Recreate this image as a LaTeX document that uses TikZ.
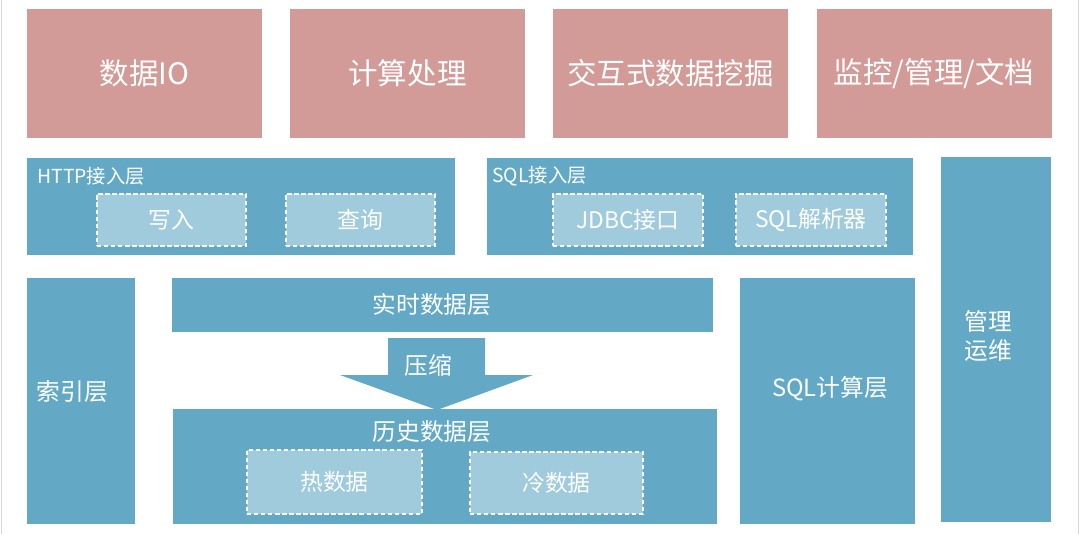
\documentclass[tikz,border=0pt]{standalone}
\usepackage{fontspec}
\setmainfont{Noto Sans CJK SC}
\usepackage{tikz}
\usetikzlibrary{positioning}
\definecolor{archpink}{RGB}{211,155,151}
\definecolor{archblue}{RGB}{99,169,197}
\definecolor{archlight}{RGB}{160,203,220}
\definecolor{archedge}{RGB}{215,215,215}

\begin{document}
\begin{tikzpicture}[
    topbox/.style={fill=archpink,minimum width=4.7cm,minimum height=2.58cm,
                   text=white,font=\fontsize{16.8}{20}\selectfont},
    layer/.style={fill=archblue,text=white,font=\fontsize{13.5}{17}\selectfont,
                  align=center,inner sep=0pt},
    sublayer/.style={fill=archlight,draw=white,line width=0.6pt,
                     dash pattern=on 2.5pt off 1.5pt,text=white,
                     font=\fontsize{13}{16}\selectfont},
    tag/.style={text=white,font=\fontsize{11}{13}\selectfont,inner sep=0pt}]
  \useasboundingbox (0,0) rectangle (21.6,-10.68);
  %% page edges
  \draw[archedge,line width=0.5pt] (0.03,0) -- (0.03,-10.68);
  \draw[archedge,line width=0.5pt] (21.57,0) -- (21.57,-10.68);
  %% Application row
  \node[topbox] (io)      at ( 2.89,-1.47) {数据IO};
  \node[topbox] (calc)    at ( 8.15,-1.47) {计算处理};
  \node[topbox] (mining)  at (13.41,-1.47) {交互式数据挖掘};
  \node[topbox] (monitor) at (18.68,-1.47) {监控/管理/文档};
  %% Access layers
  \node[layer,minimum width=8.56cm,minimum height=1.94cm] (http) at (4.82,-4.13) {};
  \node[tag,anchor=west] (httplbl) at (0.74,-3.52) {HTTP接入层};
  \node[sublayer,minimum width=2.98cm,minimum height=1.04cm] (write) at (3.43,-4.40) {写入};
  \node[sublayer,minimum width=2.98cm,minimum height=1.04cm] (query) at (7.21,-4.40) {查询};
  \node[layer,minimum width=8.52cm,minimum height=1.94cm] (sqlin) at (14.0,-4.13) {};
  \node[tag,anchor=west] (sqllbl) at (9.84,-3.52) {SQL接入层};
  \node[sublayer,minimum width=3.0cm,minimum height=1.04cm] (jdbc)  at (12.56,-4.40) {JDBC接口};
  \node[sublayer,minimum width=3.0cm,minimum height=1.04cm] (parse) at (16.22,-4.40) {SQL解析器};
  %% Ops column
  \node[layer,minimum width=2.2cm,minimum height=7.3cm] (ops) at (19.92,-6.79) {};
  \node[layer,fill=none] (opslbl) at (19.76,-6.72) {管理\\运维};
  %% Storage
  \node[layer,minimum width=2.16cm,minimum height=4.92cm] (index) at (1.62,-8.02) {};
  \node[layer,fill=none] (indexlbl) at (1.45,-7.84) {索引层};
  \node[layer,minimum width=10.82cm,minimum height=1.08cm] (realtime) at (8.85,-6.10) {};
  \node[layer,fill=none] (rtlbl) at (8.64,-6.10) {实时数据层};
  \fill[archblue] (7.76,-6.76) -- (9.70,-6.76) -- (9.70,-7.50) -- (10.66,-7.50)
        -- (8.74,-8.20) -- (6.80,-7.50) -- (7.76,-7.50) -- cycle;
  \node[layer,fill=none] (zip) at (8.56,-7.30) {压缩};
  \node[layer,minimum width=10.88cm,minimum height=2.30cm] (history) at (8.90,-9.33) {};
  \node[layer,fill=none] (histlbl) at (8.64,-8.64) {历史数据层};
  \node[sublayer,minimum width=3.5cm,minimum height=1.28cm]  (hot)  at ( 6.69,-9.64) {热数据};
  \node[sublayer,minimum width=3.46cm,minimum height=1.24cm] (cold) at (11.13,-9.66) {冷数据};
  %% SQL compute
  \node[layer,minimum width=3.5cm,minimum height=4.92cm] (sqlcalc) at (16.55,-8.02) {};
  \node[layer,fill=none] (sqlcalclbl) at (16.6,-7.77) {SQL计算层};
\end{tikzpicture}
\end{document}
